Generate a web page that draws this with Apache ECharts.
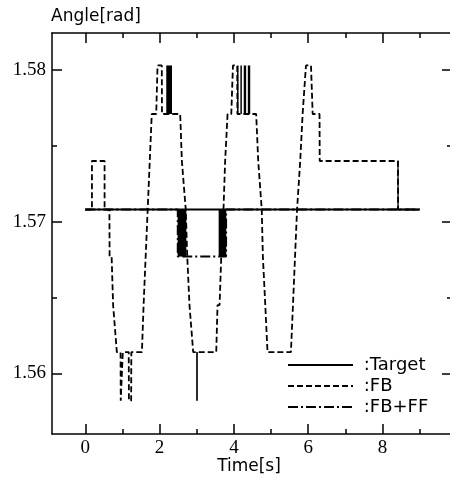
<!DOCTYPE html>
<html>
<head>
<meta charset="utf-8">
<script src="https://cdn.jsdelivr.net/npm/echarts@6/dist/echarts.min.js"></script>
<style>html,body{margin:0;padding:0;background:#fff;}#c{width:450px;height:479px;}</style>
</head>
<body>
<div id="c"></div>
<script>
// ---- data ----
const targetTime  = [0, 9.0];
const targetAngle = [1.5708, 1.5708];

const fbTime = [0, 0.18, 0.18, 0.52, 0.52, 0.65, 0.655, 0.71, 0.75, 0.80, 0.85, 0.95, 0.955, 1.005, 1.01, 1.17, 1.175, 1.235, 1.24, 1.525, 1.57, 1.615, 1.79, 1.91, 1.945, 2.06, 2.065, 2.555, 2.60, 2.64, 2.705, 2.745, 2.805, 2.85, 2.905, 3.525, 3.56, 3.615, 3.66, 3.72, 3.765, 3.795, 3.83, 3.93, 3.975, 4.09, 4.095, 4.60, 4.655, 4.69, 4.75, 4.78, 4.80, 4.845, 4.87, 4.905, 5.535, 5.59, 5.63, 5.70, 5.785, 5.80, 5.85, 5.90, 5.94, 6.075, 6.12, 6.305, 6.31, 8.415, 8.42, 9.0];
const fbAngle = [1.5708, 1.5708, 1.5740, 1.5740, 1.5708, 1.5708, 1.5677, 1.5677, 1.5645, 1.5645, 1.5614, 1.5614, 1.5582, 1.5582, 1.5614, 1.5614, 1.5582, 1.5582, 1.5614, 1.5614, 1.5645, 1.5645, 1.5771, 1.5771, 1.5803, 1.5803, 1.5771, 1.5771, 1.5740, 1.5740, 1.5708, 1.5677, 1.5645, 1.5645, 1.5614, 1.5614, 1.5645, 1.5645, 1.5677, 1.5708, 1.5740, 1.5740, 1.5771, 1.5771, 1.5803, 1.5803, 1.5771, 1.5771, 1.5740, 1.5740, 1.5708, 1.5677, 1.5677, 1.5645, 1.5645, 1.5614, 1.5614, 1.5645, 1.5645, 1.5708, 1.5740, 1.5740, 1.5771, 1.5771, 1.5803, 1.5803, 1.5771, 1.5771, 1.5740, 1.5740, 1.5708, 1.5708];

const ffTime  = [0, 2.49, 2.49, 3.79, 3.79, 9.0];
const ffAngle = [1.5708, 1.5708, 1.5677, 1.5677, 1.5708, 1.5708];

// dense chattering bands (appear as solid black bars)
const chatterStart = [2.18, 2.485, 3.59, 4.085, 4.175, 4.265, 4.375, 2.985, 8.40];
const chatterEnd   = [2.335, 2.72, 3.795, 4.125, 4.215, 4.33, 4.44, 3.03, 8.435];
const chatterLow   = [1.5771, 1.5677, 1.5677, 1.5771, 1.5771, 1.5771, 1.5771, 1.5582, 1.5708];
const chatterHigh  = [1.5803, 1.5708, 1.5708, 1.5803, 1.5803, 1.5803, 1.5803, 1.5614, 1.5740];

const xMajorTicks = [0, 2, 4, 6, 8];
const xMinorTicks = [1, 3, 5, 7, 9];
const yMajorTicks = [1.56, 1.57, 1.58];
const yMinorTicks = [1.565, 1.575];

const X_MIN = -0.895, X_MAX = 9.87, Y_MIN = 1.556, Y_MAX = 1.58244;

const zip = (a, b) => a.map((v, i) => [v, b[i]]);
const chatterData = chatterStart.map((s, i) => [s, chatterEnd[i], chatterLow[i], chatterHigh[i]]);

const serif = 'Liberation Serif';
const sans = 'DejaVu Sans';
const axisCol = '#000';

function xAx(pos, ticks, len, showLine, labels) {
  return {
    type: 'value', min: X_MIN, max: X_MAX, position: pos, gridIndex: 0,
    axisLine: { show: showLine, onZero: false, lineStyle: { color: axisCol, width: 1.5 } },
    axisTick: { show: true, inside: true, length: len, customValues: ticks, lineStyle: { color: axisCol, width: 1.5 } },
    axisLabel: labels ? { show: true, customValues: ticks, margin: 5, color: '#000', fontFamily: serif, fontSize: 19 } : { show: false },
    splitLine: { show: false }
  };
}
function yAx(pos, ticks, len, showLine, labels) {
  return {
    type: 'value', min: Y_MIN, max: Y_MAX, position: pos, gridIndex: 0,
    axisLine: { show: showLine, onZero: false, lineStyle: { color: axisCol, width: 1.5 } },
    axisTick: { show: true, inside: true, length: len, customValues: ticks, lineStyle: { color: axisCol, width: 1.5 } },
    axisLabel: labels ? { show: true, customValues: ticks, margin: 6, color: '#000', fontFamily: serif, fontSize: 19,
      formatter: v => v.toFixed(2) } : { show: false },
    splitLine: { show: false }
  };
}

const chart = echarts.init(document.getElementById('c'), null, { renderer: 'canvas' });
chart.setOption({
  animation: false,
  backgroundColor: '#fff',
  grid: { left: 52, top: 33, width: 400, height: 401, containLabel: false, outerBoundsMode: 'none' },
  xAxis: [
    xAx('bottom', xMajorTicks, 10, true, true),
    xAx('bottom', xMinorTicks, 5, false, false),
    xAx('top', xMajorTicks, 10, true, false),
    xAx('top', xMinorTicks, 5, false, false)
  ],
  yAxis: [
    yAx('left', yMajorTicks, 10, true, true),
    yAx('left', yMinorTicks, 5, false, false),
    yAx('right', yMajorTicks, 10, true, false),
    yAx('right', yMinorTicks, 5, false, false)
  ],
  legend: {
    data: ['Target', 'FB', 'FB+FF'],
    orient: 'vertical', left: 287, top: 356, padding: 0,
    itemWidth: 65, itemHeight: 14, itemGap: 3,
    formatter: ' :{name}',
    itemStyle: { opacity: 0 },
    textStyle: { color: '#000', fontFamily: sans, fontSize: 18, lineHeight: 18 },
    selectedMode: false
  },
  graphic: [
    { type: 'text', x: 51, y: 17, style: { text: 'Angle[rad]', fill: '#000', font: '17px "DejaVu Sans", sans-serif', verticalAlign: 'middle', align: 'left' } },
    { type: 'text', x: 249, y: 467, style: { text: 'Time[s]', fill: '#000', font: '17px "DejaVu Sans", sans-serif', verticalAlign: 'middle', align: 'center' } }
  ],
  series: [
    {
      name: 'FB', type: 'line', xAxisIndex: 0, yAxisIndex: 0, symbol: 'none',
      data: zip(fbTime, fbAngle),
      itemStyle: { color: '#000', opacity: 0 },
      lineStyle: { color: '#000', width: 1.8, type: [6, 3] }
    },
    {
      name: 'FB+FF', type: 'line', xAxisIndex: 0, yAxisIndex: 0, symbol: 'none',
      data: zip(ffTime, ffAngle),
      itemStyle: { color: '#000', opacity: 0 },
      lineStyle: { color: '#000', width: 2, type: [10, 3, 2, 3] }
    },
    {
      name: 'chatter', type: 'custom', xAxisIndex: 0, yAxisIndex: 0,
      data: chatterData,
      encode: { x: [0, 1], y: [2, 3] },
      renderItem: function (params, api) {
        const p0 = api.coord([api.value(0), api.value(3)]);
        const p1 = api.coord([api.value(1), api.value(2)]);
        return { type: 'rect', shape: { x: p0[0], y: p0[1], width: p1[0] - p0[0], height: p1[1] - p0[1] }, style: { fill: '#000' } };
      }
    },
    {
      name: 'Target', type: 'line', xAxisIndex: 0, yAxisIndex: 0, symbol: 'none',
      data: zip(targetTime, targetAngle),
      itemStyle: { color: '#000', opacity: 0 },
      lineStyle: { color: '#000', width: 2, type: 'solid' }
    }
  ]
});
</script>
</body>
</html>
